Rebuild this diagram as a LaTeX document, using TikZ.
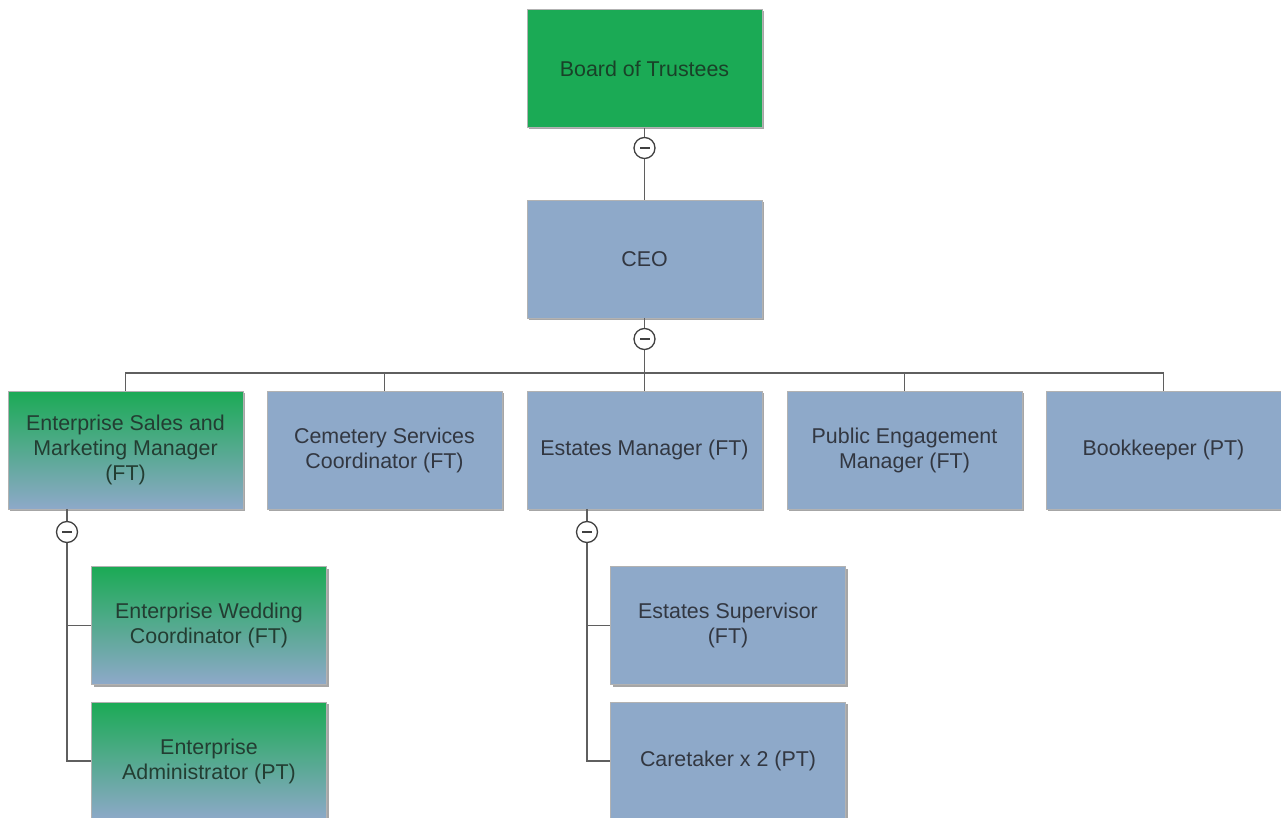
\documentclass[tikz,border=0pt]{standalone}
\usepackage{fontspec}
\setmainfont{Liberation Sans}
\usetikzlibrary{shadows}
\definecolor{bgreen}{RGB}{27,170,85}
\definecolor{bblue}{RGB}{142,169,201}
\definecolor{linec}{RGB}{95,95,95}
\definecolor{txt}{RGB}{50,55,65}
\definecolor{gtxt}{RGB}{25,65,40}
\tikzset{
 box/.style={minimum width=235pt, minimum height=118pt, inner sep=0pt, align=center,
   font=\fontsize{21.4pt}{25pt}\selectfont,
   drop shadow={shadow xshift=2pt, shadow yshift=-2pt, opacity=0.35, fill=black},
   draw=black!30, line width=0.6pt},
 bluebox/.style={box, fill=bblue, text=txt},
 greenbox/.style={box, fill=bgreen, text=gtxt},
 gradbox/.style={box, top color=bgreen, bottom color=bblue, text=gtxt!60!txt},
 conn/.style={draw=linec, line width=1.6pt},
 collapse/.style={circle, draw=black!75, fill=white, line width=1.3pt, minimum size=21pt, inner sep=0pt,
   path picture={\fill[black!75] ([xshift=-5pt,yshift=-1.4pt]path picture bounding box.center) rectangle ([xshift=5pt,yshift=1.4pt]path picture bounding box.center);}}
}
\begin{document}
\begin{tikzpicture}[x=1pt,y=-1pt]
\clip (0,0) rectangle (1281,818);
\fill[white] (0,0) rectangle (1281,818);
% boxes
\node[greenbox] (board) at (644.5,68.5) {Board of Trustees};
\node[bluebox] (ceo) at (644.5,259) {CEO};
\node[gradbox] (r1) at (125.5,450) {Enterprise Sales and\\Marketing Manager\\(FT)};
\node[bluebox] (r2) at (384.5,450) {Cemetery Services\\Coordinator (FT)};
\node[bluebox] (r3) at (644.5,450) {Estates Manager (FT)};
\node[bluebox] (r4) at (904.5,450) {Public Engagement\\Manager (FT)};
\node[bluebox] (r5) at (1163.5,450) {Bookkeeper (PT)};
\node[gradbox] (e1) at (209,625.5) {Enterprise Wedding\\Coordinator (FT)};
\node[gradbox] (e2) at (209,761) {Enterprise\\Administrator (PT)};
\node[bluebox] (s1) at (728,625.5) {Estates Supervisor\\(FT)};
\node[bluebox] (s2) at (728,761) {Caretaker x 2 (PT)};
% coordinates
\coordinate (c0) at (644.5,148);
\coordinate (c1) at (644.5,339);
\coordinate (cL) at (67,532);
\coordinate (cR) at (587,532);
\coordinate (bus) at (644.5,373);
% connectors
\draw[conn] (board.south) -- (ceo.north);
\draw[conn] (ceo.south) -- (bus);
\draw[conn] (bus) -- (r3.north);
\draw[conn] (bus) -| (r1.north);
\draw[conn] (bus) -| (r2.north);
\draw[conn] (bus) -| (r4.north);
\draw[conn] (bus) -| (r5.north);
\draw[conn] (r1.south -| cL) -- (cL) |- (e2.west);
\draw[conn] (cL) |- (e1.west);
\draw[conn] (r3.south -| cR) -- (cR) |- (s2.west);
\draw[conn] (cR) |- (s1.west);
% collapse markers
\node[collapse] (k0) at (c0) {};
\node[collapse] (k1) at (c1) {};
\node[collapse] (kL) at (cL) {};
\node[collapse] (kR) at (cR) {};
\end{tikzpicture}
\end{document}
